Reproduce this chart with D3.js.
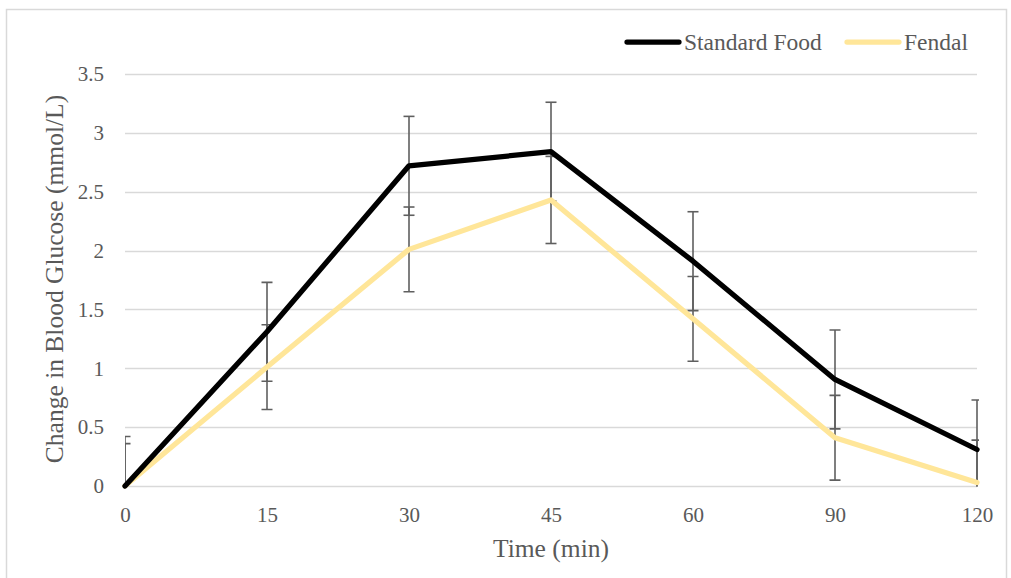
<!DOCTYPE html>
<html>
<head>
<meta charset="utf-8">
<script src="https://cdn.jsdelivr.net/npm/d3@7"></script>
<style>
  html, body { margin: 0; padding: 0; background: #fff; }
  svg { display: block; }
</style>
</head>
<body>
<svg id="chart" width="1011" height="578"></svg>
<script>
// ---- Data ----
const timeLabels = ["0", "15", "30", "45", "60", "90", "120"];
const standardFood = [0, 1.31, 2.72, 2.84, 1.91, 0.905, 0.31];
const standardFoodErr = [0.42, 0.42, 0.42, 0.42, 0.42, 0.42, 0.42];
const fendal = [0, 1.01, 2.01, 2.43, 1.42, 0.41, 0.03];
const fendalErr = [0.36, 0.36, 0.36, 0.37, 0.36, 0.36, 0.36];
const yTicks = [0, 0.5, 1, 1.5, 2, 2.5, 3, 3.5];
const seriesNames = ["Standard Food", "Fendal"];
const seriesColors = ["#000000", "#FFE699"];

const FONT = "'Liberation Serif', 'Times New Roman', serif";
const TXT = "#595959";

const svg = d3.select("#chart");

// chart border
svg.append("rect")
  .attr("x", 6.5).attr("y", 9.5)
  .attr("width", 1000).attr("height", 580)
  .attr("fill", "none").attr("stroke", "#d9d9d9").attr("stroke-width", 1.5);

const pLeft = 125, pRight = 977, pTop = 74, pBottom = 486;

const x = d3.scalePoint().domain(timeLabels).range([pLeft, pRight]).padding(0);
const y = d3.scaleLinear().domain([0, 3.5]).range([pBottom, pTop]);

// gridlines
svg.append("g")
  .selectAll("line")
  .data(yTicks)
  .join("line")
  .attr("x1", pLeft).attr("x2", pRight)
  .attr("y1", d => Math.round(y(d)) + 0.5).attr("y2", d => Math.round(y(d)) + 0.5)
  .attr("stroke", "#d9d9d9").attr("stroke-width", 1.3);

// y axis labels
const yAxis = d3.axisLeft(y).tickValues(yTicks).tickSize(0).tickPadding(0)
  .tickFormat(d => String(d));
const gy = svg.append("g").attr("transform", `translate(104,0)`).call(yAxis);
gy.select(".domain").remove();
gy.selectAll("text")
  .style("font-family", FONT).style("font-size", "21px").style("fill", TXT);

// x axis labels
const xAxis = d3.axisBottom(x).tickSize(0).tickPadding(0);
const gx = svg.append("g").attr("transform", `translate(0,${pBottom + 21})`).call(xAxis);
gx.select(".domain").remove();
gx.selectAll("text")
  .style("font-family", FONT).style("font-size", "21px").style("fill", TXT);

// axis titles
svg.append("text")
  .attr("x", 551).attr("y", 557)
  .attr("text-anchor", "middle")
  .style("font-family", FONT).style("font-size", "25.5px").style("fill", TXT)
  .text("Time (min)");

svg.append("text")
  .attr("transform", "translate(63,279) rotate(-90)")
  .attr("text-anchor", "middle")
  .style("font-family", FONT).style("font-size", "25.5px").style("fill", TXT)
  .text("Change in Blood Glucose (mmol/L)");

// clip for plot
svg.append("defs").append("clipPath").attr("id", "plotclip")
  .append("rect").attr("x", pLeft).attr("y", 0).attr("width", pRight - pLeft + 2).attr("height", pBottom + 0.5);

const series = [
  { name: seriesNames[0], values: standardFood, err: standardFoodErr, color: seriesColors[0] },
  { name: seriesNames[1], values: fendal, err: fendalErr, color: seriesColors[1] }
];

const line = d3.line().x((d, i) => x(timeLabels[i])).y(d => y(d));

// error bars (drawn beneath lines)
const capHalf = 5.5;
const eb = svg.append("g").attr("clip-path", "url(#plotclip)");
series.forEach(s => {
  s.values.forEach((v, i) => {
    const cx = x(timeLabels[i]);
    const hi = v + s.err[i], lo = v - s.err[i];
    const g = eb.append("g").attr("stroke", "#5f5f5f").attr("stroke-width", 1.6);
    g.append("line").attr("x1", cx).attr("x2", cx).attr("y1", y(hi)).attr("y2", y(lo));
    g.append("line").attr("x1", cx - capHalf).attr("x2", cx + capHalf).attr("y1", y(hi)).attr("y2", y(hi));
    if (lo >= 0) {
      g.append("line").attr("x1", cx - capHalf).attr("x2", cx + capHalf).attr("y1", y(lo)).attr("y2", y(lo));
    }
  });
});

// lines
[series[1], series[0]].forEach(s => {
  svg.append("path")
    .datum(s.values)
    .attr("d", line)
    .attr("fill", "none")
    .attr("stroke", s.color)
    .attr("stroke-width", 5.25)
    .attr("stroke-linejoin", "round")
    .attr("stroke-linecap", "round");
});

// legend
const legendItems = [
  { name: seriesNames[0], color: seriesColors[0], x1: 627, x2: 679, tx: 684 },
  { name: seriesNames[1], color: seriesColors[1], x1: 847, x2: 899, tx: 904 }
];
const lg = svg.append("g");
legendItems.forEach(it => {
  lg.append("line").attr("x1", it.x1).attr("x2", it.x2).attr("y1", 42).attr("y2", 42)
    .attr("stroke", it.color).attr("stroke-width", 5.25).attr("stroke-linecap", "round");
  lg.append("text").attr("x", it.tx).attr("y", 50)
    .style("font-family", FONT).style("font-size", "23.5px").style("fill", TXT)
    .text(it.name);
});
</script>
</body>
</html>
